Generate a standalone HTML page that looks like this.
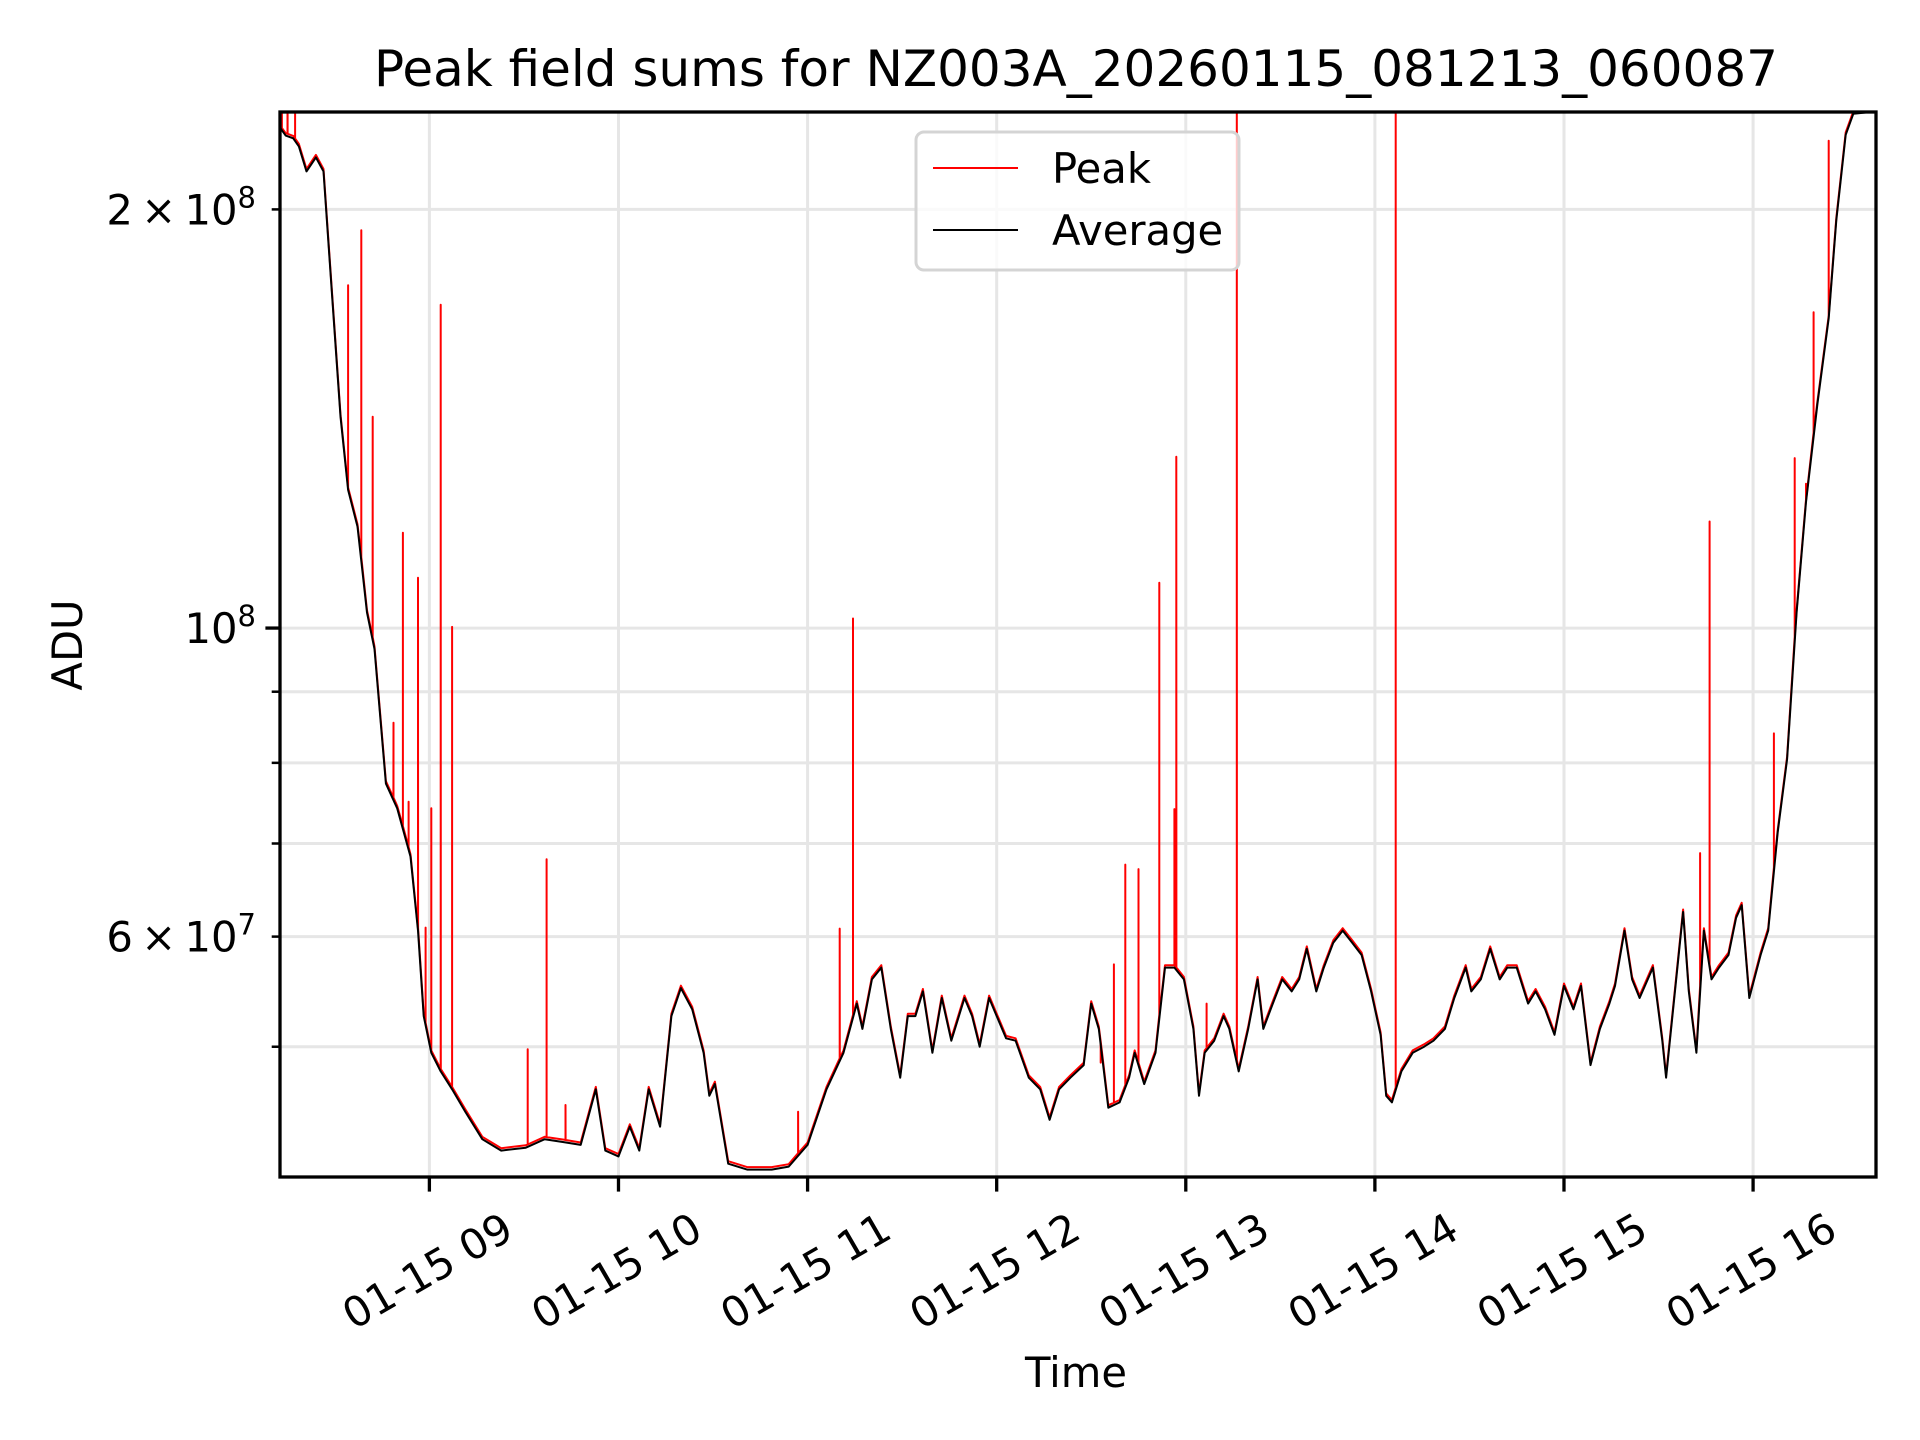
<!DOCTYPE html>
<html><head><meta charset="utf-8"><style>
html,body{margin:0;padding:0;background:#fff;}
svg{display:block;font-family:"DejaVu Sans","Liberation Sans",sans-serif;}
</style></head><body>
<svg id="chart" width="1920" height="1440" viewBox="0 0 1920 1440">
<defs><clipPath id="plotclip"><rect x="280" y="112" width="1596" height="1065"/></clipPath></defs>
<rect width="1920" height="1440" fill="#fff"/>
<g id="grid"></g>
<g id="series" clip-path="url(#plotclip)"></g>
<rect x="280" y="112" width="1596" height="1065" fill="none" stroke="#000" stroke-width="3.3"/>
<g id="ticks"></g>
<text x="1076" y="86" font-size="50" text-anchor="middle">Peak field sums for NZ003A_20260115_081213_060087</text>
<text x="1076" y="1387" font-size="41.7" text-anchor="middle">Time</text>
<text x="0" y="0" font-size="41.7" text-anchor="middle" transform="translate(82,645) rotate(-90)">ADU</text>
<g>
<rect x="916" y="132" width="323" height="138" rx="8" fill="#fff" fill-opacity="0.8" stroke="#d4d4d4" stroke-width="3"/>
<line x1="933" y1="168" x2="1018" y2="168" stroke="#f00" stroke-width="2"/>
<text x="1052" y="183" font-size="41.7">Peak</text>
<line x1="933" y1="230" x2="1018" y2="230" stroke="#000" stroke-width="2"/>
<text x="1052" y="245" font-size="41.7">Average</text>
</g>
</svg>
<script>
// time in decimal hours on 01-15, values in units of 1e7 ADU
const avgTimes = [8.21,8.24,8.28,8.31,8.35,8.40,8.44,8.48,8.53,8.57,8.62,8.67,8.71,8.77,8.83,8.90,8.94,8.97,9.01,9.06,9.12,9.19,9.28,9.38,9.51,9.61,9.71,9.80,9.88,9.93,10.00,10.06,10.11,10.16,10.22,10.28,10.33,10.39,10.45,10.48,10.51,10.58,10.68,10.81,10.90,11.00,11.10,11.19,11.26,11.29,11.34,11.39,11.44,11.49,11.53,11.57,11.61,11.66,11.71,11.76,11.83,11.87,11.91,11.96,12.00,12.05,12.10,12.17,12.23,12.28,12.33,12.39,12.46,12.50,12.54,12.59,12.65,12.70,12.73,12.78,12.84,12.89,12.94,12.99,13.04,13.07,13.10,13.15,13.20,13.23,13.28,13.33,13.38,13.41,13.46,13.51,13.56,13.60,13.64,13.69,13.73,13.78,13.83,13.88,13.93,13.98,14.03,14.06,14.09,14.14,14.20,14.26,14.31,14.37,14.42,14.48,14.51,14.56,14.61,14.66,14.70,14.75,14.81,14.85,14.90,14.95,15.00,15.05,15.09,15.14,15.19,15.24,15.27,15.32,15.36,15.40,15.47,15.52,15.54,15.58,15.63,15.66,15.70,15.74,15.78,15.82,15.87,15.91,15.94,15.98,16.04,16.08,16.13,16.18,16.23,16.28,16.34,16.40,16.44,16.49,16.53,16.65];
const avgValues = [22.9,22.6,22.5,22.2,21.3,21.8,21.3,17.75,14.19,12.57,11.83,10.26,9.66,7.73,7.42,6.85,6.06,5.26,4.95,4.80,4.66,4.49,4.29,4.21,4.23,4.29,4.27,4.25,4.66,4.21,4.17,4.38,4.21,4.66,4.38,5.26,5.51,5.32,4.95,4.61,4.70,4.12,4.08,4.08,4.10,4.25,4.66,4.95,5.37,5.15,5.59,5.70,5.15,4.75,5.26,5.26,5.48,4.95,5.42,5.05,5.42,5.26,5.00,5.42,5.26,5.07,5.05,4.75,4.66,4.43,4.66,4.75,4.85,5.37,5.15,4.52,4.56,4.75,4.95,4.70,4.95,5.70,5.70,5.59,5.15,4.61,4.95,5.05,5.26,5.15,4.80,5.15,5.59,5.15,5.37,5.59,5.48,5.59,5.88,5.48,5.70,5.94,6.06,5.94,5.82,5.48,5.10,4.61,4.56,4.80,4.95,5.00,5.05,5.15,5.42,5.70,5.48,5.59,5.88,5.59,5.70,5.70,5.37,5.48,5.32,5.10,5.53,5.32,5.53,4.85,5.15,5.37,5.53,6.06,5.59,5.42,5.70,5.05,4.75,5.37,6.25,5.48,4.95,6.06,5.59,5.70,5.82,6.19,6.32,5.42,5.82,6.06,7.13,8.05,10.26,12.32,14.49,16.70,19.64,22.63,23.43,23.52];
const spikeTimes = [8.22,8.25,8.29,8.57,8.64,8.70,8.81,8.86,8.89,8.94,8.98,9.01,9.06,9.12,9.52,9.62,9.72,10.95,11.17,11.24,12.55,12.62,12.68,12.75,12.86,12.94,12.95,13.11,13.27,14.11,15.72,15.77,16.11,16.22,16.28,16.32,16.40];
const spikeValues = [30,30,30,17.64,19.32,14.19,8.55,11.71,7.50,10.87,6.09,7.42,17.08,10.02,4.98,6.82,4.54,4.49,6.08,10.16,4.87,5.73,6.76,6.71,10.78,7.41,13.28,5.37,30,30,6.89,11.93,8.40,13.25,12.70,16.87,22.41];
const xTickHours = [9,10,11,12,13,14,15,16];
const xTickLabels = ["01-15 09","01-15 10","01-15 11","01-15 12","01-15 13","01-15 14","01-15 15","01-15 16"];
const yMajorVals = [10];
const yMinorVals = [5,6,7,8,9,20];
const yLabelVals = [20,10,6];
const yLabelText = [["2\u2009×\u200910","8"],["10","8"],["6\u2009×\u200910","7"]];

const X0=280,X1=1876,Y0=1177,Y1=112,TMIN=8.21,TMAX=16.65,VMIN=4.03,VMAX=23.5;
function xs(t){return X0+(t-TMIN)/(TMAX-TMIN)*(X1-X0);}
function ys(v){return Y0-(Math.log10(v)-Math.log10(VMIN))/(Math.log10(VMAX)-Math.log10(VMIN))*(Y0-Y1);}
function avgAt(t){for(let i=1;i<avgTimes.length;i++){if(avgTimes[i]>=t){const f=(t-avgTimes[i-1])/(avgTimes[i]-avgTimes[i-1]);return avgValues[i-1]+f*(avgValues[i]-avgValues[i-1]);}}return avgValues[avgValues.length-1];}
const NS="http://www.w3.org/2000/svg";
function mk(tag,attrs,parent){const e=document.createElementNS(NS,tag);for(const k in attrs)e.setAttribute(k,attrs[k]);parent.appendChild(e);return e;}
const grid=document.getElementById('grid'),ticks=document.getElementById('ticks'),series=document.getElementById('series');
xTickHours.forEach((h,i)=>{
  const x=xs(h);
  const g=mk('line',{x1:x,x2:x,y1:Y1,y2:Y0,stroke:'#e6e6e6','stroke-width':3},grid);
  
  
  const t=mk('line',{x1:x,x2:x,y1:Y0,y2:Y0+14.6,stroke:'#000','stroke-width':3.3},ticks);
  
  
  const lb=mk('text',{x:0,y:0,'font-size':41.7,'text-anchor':'middle','dominant-baseline':'central',transform:`translate(${x-2},1271) rotate(-30)`},ticks);
  lb.textContent=xTickLabels[i];
  
  
});
yMajorVals.concat(yMinorVals).forEach(v=>{
  const y=ys(v); const major=yMajorVals.includes(v);
  const g=mk('line',{x1:X0,x2:X1,y1:y,y2:y,stroke:'#e6e6e6','stroke-width':3},grid);
  
  
  const t=mk('line',{x1:X0-(major?14.6:8.3),x2:X0,y1:y,y2:y,stroke:'#000','stroke-width':major?3.3:2.5},ticks);
  
  
});
yLabelVals.forEach((v,i)=>{
  const y=ys(v);
  const lb=mk('text',{x:256,y:y+15,'font-size':41.7,'text-anchor':'end'},ticks);
  
  
  const a=document.createElementNS(NS,'tspan');a.textContent=yLabelText[i][0];lb.appendChild(a);
  const b=document.createElementNS(NS,'tspan');b.setAttribute('dy','-17');b.setAttribute('font-size','29');b.textContent=yLabelText[i][1];lb.appendChild(b);
});
// peak line: average path with spikes inserted
let pts=avgTimes.map((t,i)=>[t,avgValues[i]*1.004]);
spikeTimes.forEach((t,i)=>{const b=avgAt(t);pts.push([t-0.0001,b*1.004]);pts.push([t,spikeValues[i]]);pts.push([t+0.0001,b*1.004]);});
pts.sort((a,b)=>a[0]-b[0]);
const peak=mk('path',{d:'M'+pts.map(p=>xs(p[0]).toFixed(1)+','+ys(p[1]).toFixed(1)).join('L'),fill:'none',stroke:'#f00','stroke-width':2,'stroke-linejoin':'round'},series);


const avg=mk('path',{d:'M'+avgTimes.map((t,i)=>xs(t).toFixed(1)+','+ys(avgValues[i]).toFixed(1)).join('L'),fill:'none',stroke:'#000','stroke-width':2,'stroke-linejoin':'round'},series);


</script>
</body></html>
